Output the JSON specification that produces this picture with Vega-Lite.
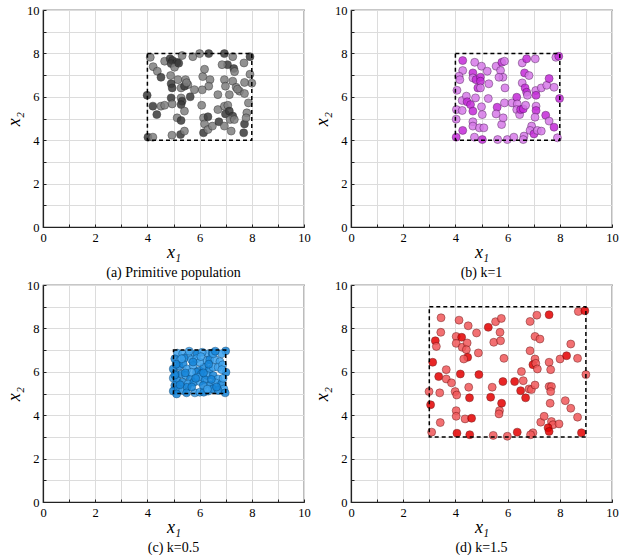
{
"$schema":"https://vega.github.io/schema/vega-lite/v6.json",
"padding":{"left":4,"top":3,"right":5,"bottom":5},
"background":"white",
"columns":2,
"spacing":{"row":58,"column":47},
"bounds":"flush",
"resolve":{"scale":{"color":"independent","x":"independent","y":"independent"}},
"config":{
 "font":"Liberation Serif",
 "view":{"stroke":"#222","strokeWidth":1.2},
 "axis":{"domainColor":"#222","domainWidth":1.2,"tickColor":"#222","tickSize":-3,"tickWidth":1,"labelPadding":7,"gridColor":"#dcdcdc","gridWidth":1,"labelFont":"Liberation Serif","labelFontSize":12.5,"labelColor":"#000","titleFont":"Liberation Serif","titleFontStyle":"italic","titleFontWeight":"normal","titleFontSize":18,"titleColor":"#000","labelFlush":false,"labelOverlap":false},
 "axisX":{"titlePadding":0,"labelFont":"Liberation Serif","titleFont":"Liberation Serif"},
 "axisY":{"titlePadding":3,"labelFont":"Liberation Serif","titleFont":"Liberation Serif"},
 "title":{"orient":"bottom","fontSize":14,"font":"Liberation Serif","fontWeight":"normal","offset":0,"color":"#000"}
},
"concat":[
 {"width":261,"height":217,"title":"(a) Primitive population",
  "layer":[
   {"data":{"values":[
{"x1":4.11,"x2":7.82,"d":0},{"x1":4.22,"x2":7.39,"d":0},{"x1":4.38,"x2":7.18,"d":0},{"x1":4.52,"x2":6.9,"d":1},{"x1":4.66,"x2":7.64,"d":0},{"x1":4.87,"x2":7.75,"d":1},{"x1":4.96,"x2":7.67,"d":1},{"x1":4.91,"x2":7.53,"d":1},{"x1":5.13,"x2":7.59,"d":1},{"x1":5.04,"x2":7.36,"d":0},{"x1":5.33,"x2":7.9,"d":0},{"x1":5.74,"x2":7.85,"d":0},{"x1":6.0,"x2":7.99,"d":0},{"x1":6.35,"x2":7.99,"d":1},{"x1":6.95,"x2":7.99,"d":1},{"x1":7.27,"x2":7.85,"d":0},{"x1":7.07,"x2":7.48,"d":1},{"x1":6.86,"x2":7.48,"d":0},{"x1":7.31,"x2":7.3,"d":1},{"x1":7.7,"x2":7.56,"d":0},{"x1":7.93,"x2":7.85,"d":1},{"x1":7.93,"x2":7.04,"d":0},{"x1":8.0,"x2":6.63,"d":0},{"x1":7.72,"x2":6.66,"d":0},{"x1":6.12,"x2":6.93,"d":0},{"x1":6.19,"x2":7.27,"d":0},{"x1":6.4,"x2":6.79,"d":0},{"x1":6.35,"x2":6.49,"d":0},{"x1":6.95,"x2":6.79,"d":0},{"x1":6.99,"x2":6.49,"d":0},{"x1":7.27,"x2":6.72,"d":0},{"x1":7.4,"x2":6.44,"d":0},{"x1":7.53,"x2":6.26,"d":0},{"x1":7.72,"x2":6.15,"d":0},{"x1":7.87,"x2":5.72,"d":0},{"x1":7.14,"x2":6.1,"d":0},{"x1":6.7,"x2":6.1,"d":0},{"x1":6.1,"x2":6.32,"d":0},{"x1":5.8,"x2":6.33,"d":0},{"x1":5.64,"x2":6.0,"d":1},{"x1":5.55,"x2":6.56,"d":0},{"x1":5.17,"x2":6.79,"d":0},{"x1":5.29,"x2":6.41,"d":0},{"x1":5.42,"x2":6.49,"d":1},{"x1":5.46,"x2":6.79,"d":0},{"x1":4.89,"x2":6.98,"d":0},{"x1":4.91,"x2":6.6,"d":1},{"x1":4.95,"x2":6.41,"d":1},{"x1":3.99,"x2":6.07,"d":1},{"x1":4.21,"x2":5.57,"d":1},{"x1":4.36,"x2":5.18,"d":1},{"x1":4.52,"x2":5.57,"d":0},{"x1":4.66,"x2":5.61,"d":0},{"x1":4.91,"x2":5.95,"d":1},{"x1":4.95,"x2":5.67,"d":0},{"x1":5.29,"x2":5.95,"d":0},{"x1":5.33,"x2":5.8,"d":1},{"x1":5.29,"x2":5.64,"d":1},{"x1":5.42,"x2":5.34,"d":0},{"x1":5.14,"x2":5.03,"d":0},{"x1":5.29,"x2":4.91,"d":1},{"x1":4.94,"x2":4.23,"d":0},{"x1":5.27,"x2":4.26,"d":1},{"x1":5.42,"x2":4.42,"d":0},{"x1":4.02,"x2":4.14,"d":1},{"x1":4.21,"x2":4.14,"d":0},{"x1":6.08,"x2":5.61,"d":0},{"x1":6.15,"x2":5.03,"d":0},{"x1":6.19,"x2":4.75,"d":0},{"x1":6.15,"x2":4.34,"d":1},{"x1":6.32,"x2":5.08,"d":1},{"x1":6.32,"x2":4.49,"d":0},{"x1":6.49,"x2":4.65,"d":0},{"x1":6.7,"x2":5.41,"d":0},{"x1":6.74,"x2":4.85,"d":1},{"x1":6.95,"x2":5.57,"d":0},{"x1":7.08,"x2":5.61,"d":0},{"x1":6.99,"x2":5.21,"d":1},{"x1":7.14,"x2":5.34,"d":1},{"x1":7.27,"x2":5.11,"d":1},{"x1":7.17,"x2":4.95,"d":0},{"x1":7.33,"x2":4.95,"d":0},{"x1":6.95,"x2":4.65,"d":0},{"x1":7.21,"x2":4.42,"d":0},{"x1":7.72,"x2":4.75,"d":1},{"x1":7.69,"x2":4.34,"d":1},{"x1":7.81,"x2":5.26,"d":0},{"x1":7.78,"x2":5.03,"d":0},{"x1":7.34,"x2":7.16,"d":0},{"x1":5.5,"x2":6.65,"d":0},{"x1":7.45,"x2":6.35,"d":0},{"x1":5.2,"x2":7.55,"d":1}
   ]},
    "mark":{"type":"circle","size":64,"opacity":0.85,"stroke":"#202020","strokeWidth":0.5},
    "encoding":{
     "x":{"field":"x1","type":"quantitative","scale":{"domain":[0,10],"nice":false},"axis":{"title":"x₁","values":[0,1,2,3,4,5,6,7,8,9,10],"labelExpr":"datum.value % 2 == 0 ? datum.label : ''"}},
     "y":{"field":"x2","type":"quantitative","scale":{"domain":[0,10],"nice":false},"axis":{"title":"x₂","values":[0,1,2,3,4,5,6,7,8,9,10],"labelExpr":"datum.value % 2 == 0 ? datum.label : ''"}},
     "color":{"field":"d","type":"nominal","scale":{"domain":[0,1],"range":["#808080","#3a3a3a"]},"legend":null}
    }},
   {"data":{"values":[{"lo":4,"hi":8,"blo":4,"bhi":8}]},
    "mark":{"type":"rect","filled":false,"stroke":"#000","strokeWidth":1.5,"strokeDash":[4,3]},
    "encoding":{
     "x":{"field":"lo","type":"quantitative","scale":{"domain":[0,10],"nice":false},"axis":{"title":"x₁","values":[0,1,2,3,4,5,6,7,8,9,10],"labelExpr":"datum.value % 2 == 0 ? datum.label : ''"}},
     "x2":{"field":"hi"},
     "y":{"field":"blo","type":"quantitative","scale":{"domain":[0,10],"nice":false},"axis":{"title":"x₂","values":[0,1,2,3,4,5,6,7,8,9,10],"labelExpr":"datum.value % 2 == 0 ? datum.label : ''"}},
     "y2":{"field":"bhi"}
    }}
  ]},
 {"width":261,"height":217,"title":"(b) k=1",
  "layer":[
   {"data":{"values":[
{"x1":4.28,"x2":7.67,"d":1},{"x1":4.28,"x2":7.21,"d":0},{"x1":4.14,"x2":6.95,"d":0},{"x1":4.17,"x2":6.79,"d":0},{"x1":4.06,"x2":6.3,"d":0},{"x1":4.04,"x2":5.41,"d":0},{"x1":4.03,"x2":4.97,"d":0},{"x1":4.03,"x2":4.14,"d":1},{"x1":4.28,"x2":4.45,"d":1},{"x1":4.26,"x2":5.37,"d":0},{"x1":4.26,"x2":5.83,"d":0},{"x1":4.42,"x2":6.03,"d":0},{"x1":4.45,"x2":5.77,"d":1},{"x1":4.58,"x2":5.64,"d":1},{"x1":4.67,"x2":5.34,"d":1},{"x1":4.67,"x2":4.85,"d":0},{"x1":4.67,"x2":4.65,"d":0},{"x1":4.73,"x2":4.14,"d":0},{"x1":4.77,"x2":5.95,"d":0},{"x1":4.74,"x2":7.59,"d":0},{"x1":4.67,"x2":7.1,"d":1},{"x1":4.67,"x2":6.87,"d":0},{"x1":4.79,"x2":6.79,"d":1},{"x1":4.86,"x2":6.41,"d":1},{"x1":4.96,"x2":6.9,"d":1},{"x1":4.96,"x2":6.72,"d":1},{"x1":4.96,"x2":6.41,"d":0},{"x1":5.0,"x2":7.41,"d":0},{"x1":5.22,"x2":7.18,"d":0},{"x1":5.28,"x2":6.6,"d":0},{"x1":5.26,"x2":5.92,"d":0},{"x1":5.0,"x2":5.54,"d":0},{"x1":5.03,"x2":5.18,"d":0},{"x1":4.92,"x2":4.57,"d":0},{"x1":5.09,"x2":4.57,"d":0},{"x1":5.03,"x2":4.03,"d":1},{"x1":5.56,"x2":7.41,"d":0},{"x1":5.78,"x2":7.59,"d":1},{"x1":5.88,"x2":7.64,"d":0},{"x1":5.73,"x2":7.21,"d":0},{"x1":5.82,"x2":6.9,"d":0},{"x1":5.67,"x2":6.9,"d":0},{"x1":5.9,"x2":6.41,"d":0},{"x1":5.6,"x2":5.52,"d":1},{"x1":5.56,"x2":5.21,"d":0},{"x1":5.77,"x2":4.72,"d":0},{"x1":5.83,"x2":5.03,"d":0},{"x1":5.62,"x2":4.03,"d":0},{"x1":5.99,"x2":4.03,"d":0},{"x1":5.88,"x2":5.72,"d":0},{"x1":6.24,"x2":4.14,"d":0},{"x1":6.17,"x2":5.72,"d":0},{"x1":6.35,"x2":5.98,"d":1},{"x1":6.37,"x2":5.67,"d":0},{"x1":6.35,"x2":5.41,"d":0},{"x1":6.46,"x2":5.18,"d":0},{"x1":6.5,"x2":5.41,"d":1},{"x1":6.6,"x2":5.44,"d":1},{"x1":6.63,"x2":4.19,"d":0},{"x1":6.6,"x2":4.03,"d":0},{"x1":6.56,"x2":7.56,"d":0},{"x1":6.73,"x2":7.75,"d":1},{"x1":6.65,"x2":7.1,"d":1},{"x1":6.82,"x2":6.98,"d":0},{"x1":6.56,"x2":6.64,"d":0},{"x1":6.67,"x2":6.41,"d":1},{"x1":6.73,"x2":6.21,"d":1},{"x1":6.76,"x2":6.07,"d":0},{"x1":6.69,"x2":5.61,"d":0},{"x1":7.06,"x2":7.75,"d":0},{"x1":7.08,"x2":6.29,"d":0},{"x1":7.09,"x2":6.07,"d":1},{"x1":7.09,"x2":5.57,"d":0},{"x1":7.09,"x2":5.37,"d":1},{"x1":7.05,"x2":5.06,"d":0},{"x1":6.92,"x2":4.65,"d":0},{"x1":6.86,"x2":4.45,"d":0},{"x1":7.01,"x2":4.29,"d":1},{"x1":7.14,"x2":4.45,"d":0},{"x1":7.29,"x2":4.42,"d":0},{"x1":7.29,"x2":6.41,"d":0},{"x1":7.5,"x2":6.53,"d":0},{"x1":7.59,"x2":6.84,"d":1},{"x1":7.46,"x2":5.15,"d":1},{"x1":7.59,"x2":4.88,"d":0},{"x1":7.78,"x2":4.6,"d":1},{"x1":7.78,"x2":6.44,"d":0},{"x1":7.85,"x2":7.82,"d":0},{"x1":7.96,"x2":7.87,"d":1},{"x1":7.99,"x2":5.92,"d":1},{"x1":7.91,"x2":4.11,"d":0}
   ]},
    "mark":{"type":"circle","size":64,"opacity":0.85,"stroke":"#40104a","strokeWidth":0.5},
    "encoding":{
     "x":{"field":"x1","type":"quantitative","scale":{"domain":[0,10],"nice":false},"axis":{"title":"x₁","values":[0,1,2,3,4,5,6,7,8,9,10],"labelExpr":"datum.value % 2 == 0 ? datum.label : ''"}},
     "y":{"field":"x2","type":"quantitative","scale":{"domain":[0,10],"nice":false},"axis":{"title":"x₂","values":[0,1,2,3,4,5,6,7,8,9,10],"labelExpr":"datum.value % 2 == 0 ? datum.label : ''"}},
     "color":{"field":"d","type":"nominal","scale":{"domain":[0,1],"range":["#d67ae8","#c42ad8"]},"legend":null}
    }},
   {"data":{"values":[{"lo":4,"hi":8,"blo":4,"bhi":8}]},
    "mark":{"type":"rect","filled":false,"stroke":"#000","strokeWidth":1.5,"strokeDash":[4,3]},
    "encoding":{
     "x":{"field":"lo","type":"quantitative","scale":{"domain":[0,10],"nice":false},"axis":{"title":"x₁","values":[0,1,2,3,4,5,6,7,8,9,10],"labelExpr":"datum.value % 2 == 0 ? datum.label : ''"}},
     "x2":{"field":"hi"},
     "y":{"field":"blo","type":"quantitative","scale":{"domain":[0,10],"nice":false},"axis":{"title":"x₂","values":[0,1,2,3,4,5,6,7,8,9,10],"labelExpr":"datum.value % 2 == 0 ? datum.label : ''"}},
     "y2":{"field":"bhi"}
    }}
  ]},
 {"width":261,"height":217,"title":"(c) k=0.5",
  "layer":[
   {"data":{"values":[
{"x1":5.15,"x2":6.86,"d":0},{"x1":5.35,"x2":6.83,"d":0},{"x1":5.56,"x2":6.75,"d":0},{"x1":5.82,"x2":6.83,"d":0},{"x1":5.91,"x2":6.83,"d":1},{"x1":6.33,"x2":6.83,"d":0},{"x1":6.48,"x2":6.86,"d":1},{"x1":7.0,"x2":6.96,"d":1},{"x1":5.05,"x2":6.6,"d":1},{"x1":5.24,"x2":6.52,"d":0},{"x1":5.41,"x2":6.63,"d":1},{"x1":5.69,"x2":6.56,"d":0},{"x1":5.88,"x2":6.6,"d":0},{"x1":6.27,"x2":6.52,"d":0},{"x1":6.39,"x2":6.56,"d":1},{"x1":6.59,"x2":6.56,"d":0},{"x1":6.78,"x2":6.47,"d":0},{"x1":4.99,"x2":6.13,"d":1},{"x1":5.22,"x2":6.26,"d":1},{"x1":5.37,"x2":6.36,"d":1},{"x1":5.52,"x2":6.13,"d":0},{"x1":5.75,"x2":6.29,"d":0},{"x1":5.98,"x2":6.06,"d":1},{"x1":6.16,"x2":6.21,"d":1},{"x1":6.37,"x2":6.1,"d":1},{"x1":6.52,"x2":6.21,"d":0},{"x1":6.71,"x2":6.21,"d":0},{"x1":6.88,"x2":6.32,"d":0},{"x1":7.01,"x2":5.98,"d":1},{"x1":5.09,"x2":5.9,"d":1},{"x1":5.31,"x2":5.9,"d":1},{"x1":5.47,"x2":5.83,"d":0},{"x1":5.65,"x2":5.67,"d":1},{"x1":5.88,"x2":5.98,"d":1},{"x1":6.07,"x2":5.9,"d":1},{"x1":6.29,"x2":5.83,"d":0},{"x1":6.52,"x2":5.83,"d":1},{"x1":6.71,"x2":5.67,"d":0},{"x1":4.99,"x2":5.71,"d":0},{"x1":5.14,"x2":5.6,"d":1},{"x1":5.35,"x2":5.52,"d":1},{"x1":5.56,"x2":5.44,"d":0},{"x1":5.78,"x2":5.52,"d":1},{"x1":6.01,"x2":5.55,"d":0},{"x1":6.2,"x2":5.64,"d":1},{"x1":6.42,"x2":5.4,"d":1},{"x1":6.62,"x2":5.49,"d":0},{"x1":6.84,"x2":5.44,"d":1},{"x1":6.93,"x2":5.21,"d":0},{"x1":5.05,"x2":5.37,"d":1},{"x1":4.99,"x2":5.11,"d":1},{"x1":5.18,"x2":5.21,"d":1},{"x1":5.35,"x2":5.14,"d":0},{"x1":5.52,"x2":5.29,"d":1},{"x1":5.5,"x2":5.03,"d":1},{"x1":5.82,"x2":5.03,"d":0},{"x1":6.01,"x2":5.06,"d":0},{"x1":6.16,"x2":5.06,"d":1},{"x1":6.33,"x2":5.11,"d":0},{"x1":6.5,"x2":5.21,"d":1},{"x1":6.71,"x2":5.14,"d":1},{"x1":6.98,"x2":5.03,"d":1},{"x1":5.31,"x2":6.6,"d":0},{"x1":6.01,"x2":6.44,"d":0},{"x1":5.69,"x2":5.98,"d":0},{"x1":6.14,"x2":5.37,"d":1},{"x1":6.52,"x2":6.83,"d":0},{"x1":5.94,"x2":5.75,"d":0},{"x1":5.12,"x2":4.98,"d":1},{"x1":6.84,"x2":6.83,"d":0},{"x1":5.6,"x2":6.95,"d":0},{"x1":6.1,"x2":6.9,"d":0},{"x1":5.75,"x2":6.45,"d":1},{"x1":6.05,"x2":6.7,"d":0},{"x1":6.6,"x2":6.95,"d":1},{"x1":5.1,"x2":6.35,"d":1},{"x1":5.45,"x2":5.95,"d":1},{"x1":6.35,"x2":6.35,"d":1},{"x1":6.85,"x2":6.1,"d":0},{"x1":6.45,"x2":5.65,"d":1},{"x1":5.7,"x2":5.3,"d":1},{"x1":6.9,"x2":5.7,"d":0},{"x1":5.25,"x2":5.4,"d":1},{"x1":6.3,"x2":5.2,"d":0},{"x1":5.85,"x2":5.7,"d":1},{"x1":6.65,"x2":5.3,"d":1},{"x1":5.05,"x2":5.85,"d":1},{"x1":6.15,"x2":5.95,"d":1}
   ]},
    "mark":{"type":"circle","size":64,"opacity":0.85,"stroke":"#0b3d66","strokeWidth":0.5},
    "encoding":{
     "x":{"field":"x1","type":"quantitative","scale":{"domain":[0,10],"nice":false},"axis":{"title":"x₁","values":[0,1,2,3,4,5,6,7,8,9,10],"labelExpr":"datum.value % 2 == 0 ? datum.label : ''"}},
     "y":{"field":"x2","type":"quantitative","scale":{"domain":[0,10],"nice":false},"axis":{"title":"x₂","values":[0,1,2,3,4,5,6,7,8,9,10],"labelExpr":"datum.value % 2 == 0 ? datum.label : ''"}},
     "color":{"field":"d","type":"nominal","scale":{"domain":[0,1],"range":["#3ba2ee","#1686da"]},"legend":null}
    }},
   {"data":{"values":[{"lo":5,"hi":7,"blo":5,"bhi":7}]},
    "mark":{"type":"rect","filled":false,"stroke":"#000","strokeWidth":1.5,"strokeDash":[4,3]},
    "encoding":{
     "x":{"field":"lo","type":"quantitative","scale":{"domain":[0,10],"nice":false},"axis":{"title":"x₁","values":[0,1,2,3,4,5,6,7,8,9,10],"labelExpr":"datum.value % 2 == 0 ? datum.label : ''"}},
     "x2":{"field":"hi"},
     "y":{"field":"blo","type":"quantitative","scale":{"domain":[0,10],"nice":false},"axis":{"title":"x₂","values":[0,1,2,3,4,5,6,7,8,9,10],"labelExpr":"datum.value % 2 == 0 ? datum.label : ''"}},
     "y2":{"field":"bhi"}
    }}
  ]},
 {"width":261,"height":217,"title":"(d) k=1.5",
  "layer":[
   {"data":{"values":[
{"x1":3.45,"x2":8.49,"d":0},{"x1":3.44,"x2":7.82,"d":0},{"x1":3.23,"x2":7.43,"d":1},{"x1":3.27,"x2":7.17,"d":0},{"x1":3.13,"x2":6.44,"d":1},{"x1":3.36,"x2":5.78,"d":1},{"x1":3.4,"x2":5.03,"d":0},{"x1":2.99,"x2":5.09,"d":0},{"x1":3.05,"x2":4.48,"d":1},{"x1":3.42,"x2":3.66,"d":0},{"x1":3.09,"x2":3.22,"d":0},{"x1":3.65,"x2":6.1,"d":0},{"x1":3.65,"x2":5.67,"d":0},{"x1":3.85,"x2":5.49,"d":0},{"x1":4.03,"x2":7.63,"d":0},{"x1":4.24,"x2":7.59,"d":1},{"x1":4.03,"x2":7.31,"d":0},{"x1":4.14,"x2":8.38,"d":0},{"x1":4.26,"x2":7.13,"d":0},{"x1":4.45,"x2":7.33,"d":0},{"x1":4.42,"x2":7.02,"d":0},{"x1":4.47,"x2":6.67,"d":1},{"x1":4.32,"x2":6.59,"d":0},{"x1":4.19,"x2":5.9,"d":1},{"x1":3.99,"x2":5.09,"d":0},{"x1":4.05,"x2":4.93,"d":0},{"x1":4.03,"x2":4.21,"d":0},{"x1":4.03,"x2":3.95,"d":0},{"x1":4.37,"x2":3.83,"d":0},{"x1":4.62,"x2":3.86,"d":1},{"x1":4.51,"x2":5.29,"d":0},{"x1":4.54,"x2":4.8,"d":1},{"x1":4.06,"x2":3.17,"d":1},{"x1":4.55,"x2":3.1,"d":1},{"x1":4.49,"x2":8.12,"d":0},{"x1":4.81,"x2":7.79,"d":0},{"x1":4.88,"x2":6.87,"d":0},{"x1":4.9,"x2":5.87,"d":1},{"x1":5.26,"x2":8.05,"d":1},{"x1":5.54,"x2":8.31,"d":0},{"x1":5.76,"x2":8.46,"d":0},{"x1":5.47,"x2":7.36,"d":0},{"x1":5.71,"x2":7.82,"d":0},{"x1":5.73,"x2":7.43,"d":0},{"x1":5.86,"x2":6.62,"d":0},{"x1":5.41,"x2":5.29,"d":0},{"x1":5.35,"x2":4.83,"d":1},{"x1":5.82,"x2":5.55,"d":1},{"x1":5.77,"x2":4.55,"d":1},{"x1":5.69,"x2":4.21,"d":0},{"x1":5.67,"x2":4.06,"d":0},{"x1":5.45,"x2":3.07,"d":0},{"x1":5.99,"x2":3.03,"d":0},{"x1":6.37,"x2":3.22,"d":1},{"x1":6.27,"x2":5.55,"d":1},{"x1":6.53,"x2":6.01,"d":0},{"x1":6.6,"x2":5.59,"d":0},{"x1":6.5,"x2":5.13,"d":1},{"x1":6.69,"x2":4.8,"d":1},{"x1":6.82,"x2":5.21,"d":0},{"x1":6.91,"x2":5.18,"d":0},{"x1":7.05,"x2":5.39,"d":0},{"x1":6.86,"x2":6.97,"d":0},{"x1":6.86,"x2":8.32,"d":0},{"x1":7.05,"x2":7.63,"d":0},{"x1":7.12,"x2":8.61,"d":0},{"x1":7.24,"x2":7.51,"d":0},{"x1":7.05,"x2":6.59,"d":0},{"x1":6.97,"x2":6.33,"d":1},{"x1":7.08,"x2":6.39,"d":0},{"x1":7.14,"x2":6.13,"d":0},{"x1":7.59,"x2":8.63,"d":1},{"x1":7.59,"x2":6.44,"d":0},{"x1":7.65,"x2":6.1,"d":0},{"x1":7.59,"x2":5.32,"d":0},{"x1":7.68,"x2":5.32,"d":0},{"x1":7.65,"x2":5.09,"d":0},{"x1":7.63,"x2":4.55,"d":0},{"x1":7.27,"x2":3.68,"d":0},{"x1":7.4,"x2":3.95,"d":0},{"x1":7.68,"x2":3.71,"d":0},{"x1":7.74,"x2":3.56,"d":0},{"x1":7.97,"x2":3.6,"d":0},{"x1":7.55,"x2":3.42,"d":1},{"x1":7.59,"x2":3.25,"d":1},{"x1":6.97,"x2":3.19,"d":0},{"x1":6.88,"x2":3.1,"d":0},{"x1":8.01,"x2":6.59,"d":0},{"x1":8.26,"x2":6.74,"d":1},{"x1":8.42,"x2":7.28,"d":0},{"x1":8.68,"x2":6.62,"d":0},{"x1":8.21,"x2":4.67,"d":0},{"x1":8.42,"x2":4.32,"d":0},{"x1":8.68,"x2":3.91,"d":0},{"x1":8.83,"x2":3.19,"d":1},{"x1":8.71,"x2":8.78,"d":0},{"x1":8.96,"x2":8.81,"d":1},{"x1":9.0,"x2":5.87,"d":0}
   ]},
    "mark":{"type":"circle","size":64,"opacity":0.85,"stroke":"#5a0000","strokeWidth":0.5},
    "encoding":{
     "x":{"field":"x1","type":"quantitative","scale":{"domain":[0,10],"nice":false},"axis":{"title":"x₁","values":[0,1,2,3,4,5,6,7,8,9,10],"labelExpr":"datum.value % 2 == 0 ? datum.label : ''"}},
     "y":{"field":"x2","type":"quantitative","scale":{"domain":[0,10],"nice":false},"axis":{"title":"x₂","values":[0,1,2,3,4,5,6,7,8,9,10],"labelExpr":"datum.value % 2 == 0 ? datum.label : ''"}},
     "color":{"field":"d","type":"nominal","scale":{"domain":[0,1],"range":["#f0585a","#e40000"]},"legend":null}
    }},
   {"data":{"values":[{"lo":3,"hi":9,"blo":3,"bhi":9}]},
    "mark":{"type":"rect","filled":false,"stroke":"#000","strokeWidth":1.5,"strokeDash":[4,3]},
    "encoding":{
     "x":{"field":"lo","type":"quantitative","scale":{"domain":[0,10],"nice":false},"axis":{"title":"x₁","values":[0,1,2,3,4,5,6,7,8,9,10],"labelExpr":"datum.value % 2 == 0 ? datum.label : ''"}},
     "x2":{"field":"hi"},
     "y":{"field":"blo","type":"quantitative","scale":{"domain":[0,10],"nice":false},"axis":{"title":"x₂","values":[0,1,2,3,4,5,6,7,8,9,10],"labelExpr":"datum.value % 2 == 0 ? datum.label : ''"}},
     "y2":{"field":"bhi"}
    }}
  ]}
]
}
